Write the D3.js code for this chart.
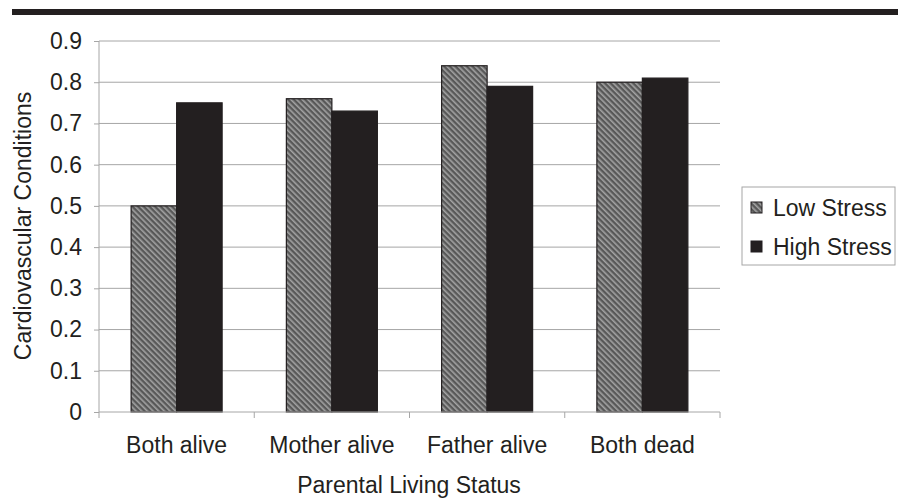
<!DOCTYPE html>
<html>
<head>
<meta charset="utf-8">
<script src="https://cdn.jsdelivr.net/npm/d3@7"></script>
<style>
  body { margin: 0; background: #fff; }
  svg { display: block; font-family: "Liberation Sans", Arial, sans-serif; }
</style>
</head>
<body>
<svg id="chart" width="898" height="498"></svg>
<script>
// data
const categories = ["Both alive", "Mother alive", "Father alive", "Both dead"];
const lowStress = [0.50, 0.76, 0.84, 0.80];
const highStress = [0.75, 0.73, 0.79, 0.81];
const seriesNames = ["Low Stress", "High Stress"];
const yTicks = [0, 0.1, 0.2, 0.3, 0.4, 0.5, 0.6, 0.7, 0.8, 0.9];

const svg = d3.select("#chart");
const fontSize = 23;
const ink = "#231f20";

// pattern for low stress bars (stripes running top-left to bottom-right)
const defs = svg.append("defs");
const pat = defs.append("pattern")
  .attr("id", "hatch")
  .attr("patternUnits", "userSpaceOnUse")
  .attr("width", 4).attr("height", 4)
  .attr("patternTransform", "rotate(-45)");
pat.append("rect").attr("width", 4).attr("height", 4).attr("fill", "#585858");
pat.append("rect").attr("x", 0).attr("width", 1.6).attr("height", 4).attr("fill", "#a3a3a3");

// thick rule on top
svg.append("rect").attr("x", 12).attr("y", 9).attr("width", 886).attr("height", 6).attr("fill", ink);

const mLeft = 99, mRight = 720, mTop = 41, mBottom = 412;

const x = d3.scaleBand().domain(categories).range([mLeft, mRight]).paddingInner(0).paddingOuter(0);
const y = d3.scaleLinear().domain([0, 0.9]).range([mBottom, mTop]);
const inner = d3.scaleBand().domain(seriesNames).range([0, 91]);
const groupOffset = (x.bandwidth() - 91) / 2;

// gridlines
svg.append("g")
  .selectAll("line")
  .data(yTicks.filter(d => d > 0))
  .join("line")
  .attr("x1", mLeft).attr("x2", mRight)
  .attr("y1", d => y(d)).attr("y2", d => y(d))
  .attr("stroke", "#a6a6a6").attr("stroke-width", 1);

// y axis
const yAxis = svg.append("g")
  .attr("transform", `translate(${mLeft},0)`)
  .call(d3.axisLeft(y).tickValues(yTicks).tickFormat(d => d === 0 ? "0" : d3.format(".1f")(d)).tickSize(5).tickPadding(12));
yAxis.attr("font-size", fontSize).attr("font-family", null);
yAxis.select(".domain").attr("stroke", "#a6a6a6").attr("d", `M0,${mTop}V${mBottom}`);
yAxis.selectAll(".tick line").attr("stroke", "#a6a6a6");
yAxis.selectAll("text").attr("fill", ink);

// bars
const rows = categories.map((c, i) => ({ cat: c, vals: [lowStress[i], highStress[i]] }));
const groups = svg.append("g").selectAll("g")
  .data(rows)
  .join("g")
  .attr("transform", d => `translate(${x(d.cat) + groupOffset},0)`);

groups.selectAll("rect")
  .data(d => d.vals.map((v, j) => ({ name: seriesNames[j], v })))
  .join("rect")
  .attr("x", d => inner(d.name))
  .attr("y", d => y(d.v))
  .attr("width", inner.bandwidth())
  .attr("height", d => mBottom - y(d.v))
  .attr("fill", d => d.name === "Low Stress" ? "url(#hatch)" : ink)
  .attr("stroke", ink)
  .attr("stroke-width", 1.2);

// x axis
const xAxisG = svg.append("g").attr("transform", `translate(0,${mBottom})`);
xAxisG.append("line").attr("x1", mLeft).attr("x2", mRight).attr("stroke", "#a6a6a6");
const bounds = d3.range(categories.length + 1).map(i => mLeft + i * x.step());
xAxisG.selectAll(".xt").data(bounds).join("line")
  .attr("class", "xt")
  .attr("x1", d => d).attr("x2", d => d).attr("y1", 0).attr("y2", 6)
  .attr("stroke", "#a6a6a6");
xAxisG.selectAll("text").data(categories).join("text")
  .attr("x", d => x(d) + x.bandwidth() / 2)
  .attr("y", 41)
  .attr("text-anchor", "middle")
  .attr("font-size", fontSize)
  .attr("fill", ink)
  .text(d => d);

// axis titles
svg.append("text")
  .attr("x", 409).attr("y", 493)
  .attr("text-anchor", "middle")
  .attr("font-size", fontSize).attr("fill", ink)
  .text("Parental Living Status");

svg.append("text")
  .attr("transform", "translate(31,226) rotate(-90)")
  .attr("text-anchor", "middle")
  .attr("font-size", fontSize).attr("fill", ink)
  .text("Cardiovascular Conditions");

// legend
const lg = svg.append("g").attr("transform", "translate(742,187)");
lg.append("rect").attr("width", 153).attr("height", 78)
  .attr("fill", "#fff").attr("stroke", "#a6a6a6");
seriesNames.forEach((name, i) => {
  const yy = 20.5 + i * 39;
  lg.append("rect").attr("x", 9).attr("y", yy - 5.5).attr("width", 11).attr("height", 11)
    .attr("fill", i === 0 ? "url(#hatch)" : ink).attr("stroke", ink);
  lg.append("text").attr("x", 31).attr("y", yy + 8)
    .attr("font-size", fontSize).attr("fill", ink).text(name);
});
</script>
</body>
</html>
